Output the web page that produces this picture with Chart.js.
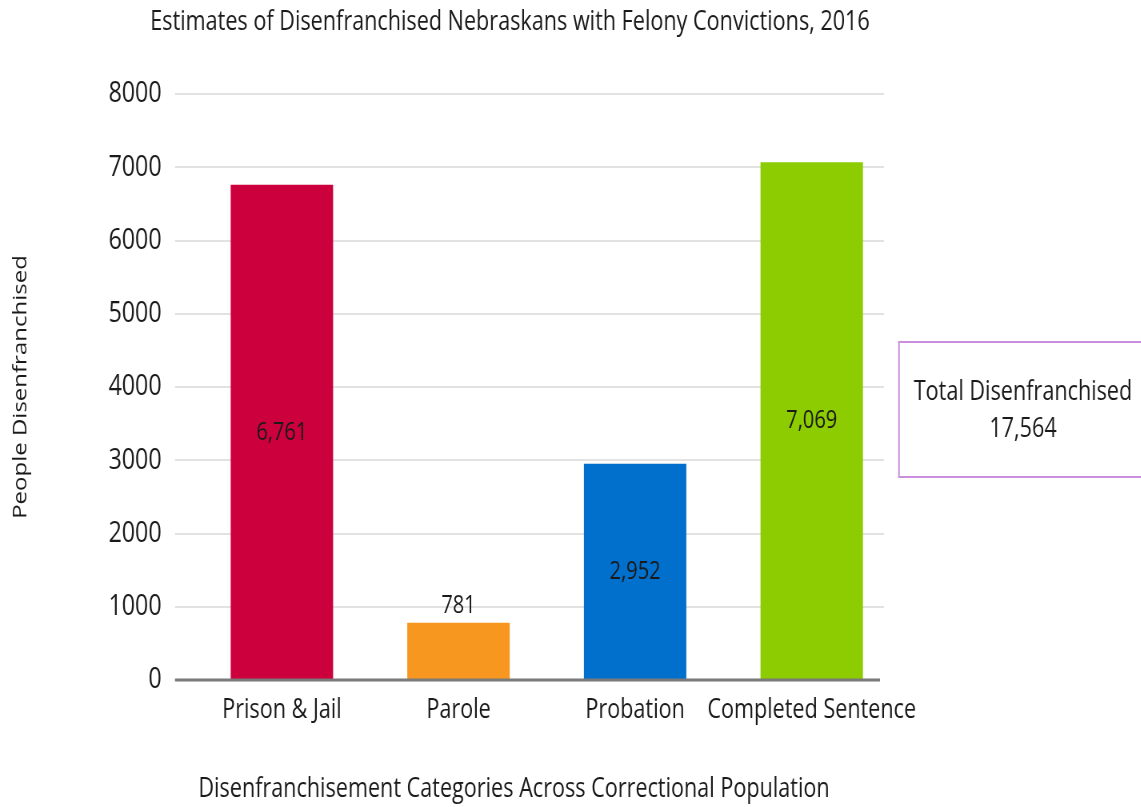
<!DOCTYPE html>
<html>
<head>
<meta charset="utf-8">
<script src="https://cdn.jsdelivr.net/npm/chart.js@4.4.1/dist/chart.umd.min.js"></script>
<style>
html, body { margin: 0; padding: 0; background: #fff; overflow: hidden; }
#wrap { position: absolute; left: 0; top: 0; height: 807px; transform-origin: 0 0; }
</style>
</head>
<body>
<div id="wrap"><canvas id="chart"></canvas></div>
<script>
// Données
var chartTitle = 'Estimates of Disenfranchised Nebraskans with Felony Convictions, 2016';
var xTitle = 'Disenfranchisement Categories Across Correctional Population';
var yTitle = 'People Disenfranchised';
var categories = ['Prison & Jail', 'Parole', 'Probation', 'Completed Sentence'];
var people = [6761, 781, 2952, 7069];
var yMin = 0, yMax = 8000, yStep = 1000;
var totalLabel = 'Total Disenfranchised';
var totalPeople = 17564;

var barColors = ['#cc003d', '#f7971f', '#0070cc', '#8ccc00'];

// the reference looks squeezed horizontally, so the canvas is drawn wider then scaled
var S = 0.8;
var W = 1141 / S;
var wrap = document.getElementById('wrap');
wrap.style.width = W + 'px';
wrap.style.transform = 'scaleX(' + S + ')';

var FONT = "'Open Sans', sans-serif";
var INK = '#1a1a1a';

function fmt(v) { return v.toLocaleString('en-US'); }

// grid lines, base line, value labels, titles and the total box
var extras = {
    id: 'extras',
    beforeDatasetsDraw: function(chart) {
        var ctx = chart.ctx, y = chart.scales.y;
        ctx.save();
        ctx.strokeStyle = '#e2e2e2';
        ctx.lineWidth = 2;
        y.ticks.forEach(function(t) {
            if (t.value === yMin) return;
            var py = Math.round(y.getPixelForValue(t.value));
            ctx.beginPath();
            ctx.moveTo(175 / S, py);
            ctx.lineTo(884 / S, py);
            ctx.stroke();
        });
        ctx.restore();
    },
    afterDatasetsDraw: function(chart) {
        var ctx = chart.ctx, y = chart.scales.y;
        ctx.save();

        // axe zéro
        var p0 = y.getPixelForValue(yMin);
        ctx.strokeStyle = '#7a7a7a';
        ctx.lineWidth = 3;
        ctx.beginPath();
        ctx.moveTo(175 / S, p0);
        ctx.lineTo(880 / S, p0);
        ctx.stroke();

        // étiquettes des barres
        ctx.fillStyle = INK;
        ctx.textAlign = 'center';
        ctx.textBaseline = 'middle';
        ctx.font = '25px ' + FONT;
        chart.getDatasetMeta(0).data.forEach(function(bar, i) {
            var h = bar.base - bar.y;
            var ty = h > 80 ? (bar.y + bar.base) / 2 : bar.y - 17;
            ctx.fillText(fmt(people[i]), bar.x, ty);
        });

        // titres
        ctx.font = '27px ' + FONT;
        ctx.fillText(chartTitle, 510 / S, 22);
        ctx.fillText(xTitle, 514 / S, 789);

        // encadré total
        ctx.strokeStyle = '#c98fdc';
        ctx.lineWidth = 2;
        ctx.strokeRect(899 / S, 342, 260 / S, 135);
        ctx.font = '27px ' + FONT;
        ctx.fillText(totalLabel, 1023 / S, 392);
        ctx.fillText(fmt(totalPeople), 1023 / S, 429);

        ctx.restore();
    }
};

var ctx = document.getElementById('chart').getContext('2d');
var chart = new Chart(ctx, {
    type: 'bar',
    data: {
        labels: categories,
        datasets: [{
            label: yTitle,
            data: people,
            backgroundColor: barColors,
            borderWidth: 0,
            categoryPercentage: 1,
            barPercentage: 0.58
        }]
    },
    options: {
        responsive: true,
        maintainAspectRatio: false,
        animation: false,
        devicePixelRatio: 1,
        layout: { padding: { top: 94, right: W - 900 / S, bottom: 0, left: 0 } },
        plugins: {
            legend: { display: false },
            tooltip: { enabled: false },
            title: { display: false }
        },
        scales: {
            x: {
                grid: { display: false, drawTicks: false },
                border: { display: false },
                ticks: {
                    color: INK,
                    padding: 14,
                    autoSkip: false,
                    maxRotation: 0,
                    font: { family: FONT, size: 27 }
                },
                afterFit: function(scale) { scale.height = 807 - 680; }
            },
            y: {
                min: yMin,
                max: yMax,
                grid: { display: false, drawTicks: false },
                border: { display: false },
                ticks: {
                    stepSize: yStep,
                    color: INK,
                    padding: 40,
                    font: { family: FONT, size: 29 },
                    callback: function(v) { return String(v); }
                },
                title: {
                    display: true,
                    text: yTitle,
                    color: INK,
                    padding: { top: 12, bottom: 0 },
                    font: { family: FONT, size: 24 }
                },
                afterFit: function(scale) { scale.width = 193.6 / S; }
            }
        }
    },
    plugins: [extras]
});
</script>
</body>
</html>
